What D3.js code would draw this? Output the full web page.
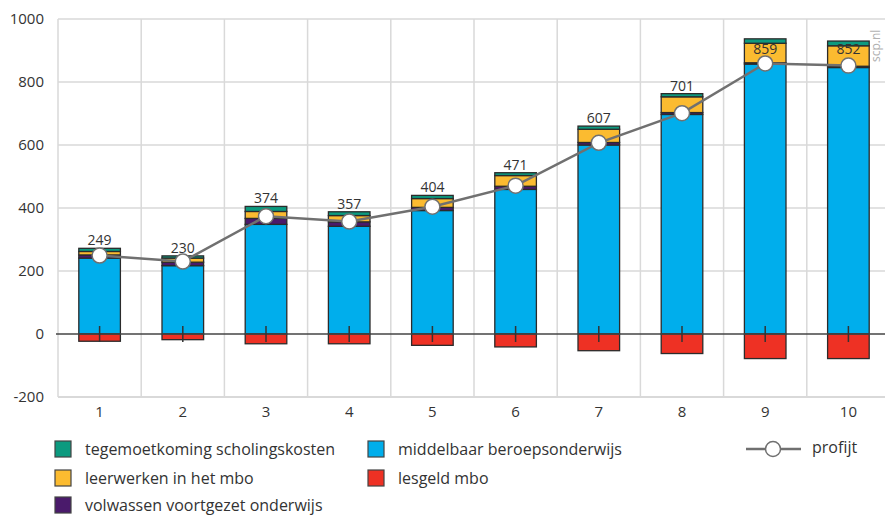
<!DOCTYPE html>
<html><head><meta charset="utf-8">
<script src="https://cdn.jsdelivr.net/npm/d3@7"></script>
<style>
body{margin:0;background:#fff;}
svg{display:block;font-family:"Open Sans",sans-serif;}
</style></head>
<body><svg id="c" width="885" height="517"></svg>
<script>
const categories = ["1","2","3","4","5","6","7","8","9","10"];
const mbo      = [241,217,348,342,392,459,600,697,857,846];
const vavo     = [10,11,19,14,10,10,8,6,4,4];
const leerwerk = [11,13,22,20,28,34,42,50,62,65];
const tegemoet = [10,7,16,12,10,9,10,10,14,15];
const lesgeld  = [-23,-18,-31,-31,-36,-41,-53,-62,-78,-78];
const profijt  = [249,230,374,357,404,471,607,701,859,852];
const yTicks   = [-200,0,200,400,600,800,1000];

const seriesNames = {
  tegemoet:"tegemoetkoming scholingskosten",
  leerwerk:"leerwerken in het mbo",
  vavo:"volwassen voortgezet onderwijs",
  mbo:"middelbaar beroepsonderwijs",
  lesgeld:"lesgeld mbo",
  profijt:"profijt"
};
const colors = {tegemoet:"#0c9a7f", leerwerk:"#fbbb30", vavo:"#4a1a6b", mbo:"#00aeec", lesgeld:"#ee3124"};

const svg = d3.select("#c");
const L=58, R=890, T=19, B=397;
const x = d3.scaleBand().domain(categories).range([L,R]).paddingInner(0.5).paddingOuter(0.25);
const xc = d3.scaleBand().domain(categories).range([L,R]).padding(0);
const y = d3.scaleLinear().domain([-200,1000]).range([B,T]);

// grid
const g = svg.append("g");
g.selectAll("line.h").data(yTicks.filter(d=>d!==0)).join("line")
  .attr("x1",L).attr("x2",R).attr("y1",d=>y(d)).attr("y2",d=>y(d))
  .attr("stroke","#d9d9d9").attr("stroke-width",d=>d===-200?2:1.5);
const vb = categories.map(c=>xc(c)).concat([R]);
g.selectAll("line.v").data(vb).join("line")
  .attr("x1",d=>d).attr("x2",d=>d).attr("y1",T).attr("y2",B)
  .attr("stroke","#d9d9d9").attr("stroke-width",1.5);

// y labels
svg.append("g").selectAll("text").data(yTicks).join("text")
  .attr("x",44).attr("y",d=>y(d)).attr("dy","0.35em").attr("text-anchor","end")
  .attr("font-size",15).attr("fill","#333").text(d=>d);
// x labels
svg.append("g").selectAll("text").data(categories).join("text")
  .attr("x",d=>xc(d)+xc.bandwidth()/2).attr("y",417).attr("text-anchor","middle")
  .attr("font-size",15).attr("fill","#333").text(d=>d);

// stacked bars
const keys = ["mbo","vavo","leerwerk","tegemoet"];
const vals = {mbo, vavo, leerwerk, tegemoet};
const rows = categories.map((c,i)=>{const o={cat:c}; keys.forEach(k=>o[k]=vals[k][i]); return o;});
const stacked = d3.stack().keys(keys)(rows);
const bars = svg.append("g");
stacked.forEach(s=>{
  bars.selectAll(null).data(s).join("rect")
    .attr("x",d=>x(d.data.cat)).attr("width",x.bandwidth())
    .attr("y",d=>y(d[1])).attr("height",d=>y(d[0])-y(d[1]))
    .attr("fill",colors[s.key]).attr("stroke","#2b2b2b").attr("stroke-width",1.3);
});
bars.selectAll(null).data(lesgeld).join("rect")
  .attr("x",(d,i)=>x(categories[i])).attr("width",x.bandwidth())
  .attr("y",y(0)).attr("height",d=>y(d)-y(0))
  .attr("fill",colors.lesgeld).attr("stroke","#2b2b2b").attr("stroke-width",1.3);

// zero line
svg.append("line").attr("x1",L-2).attr("x2",R).attr("y1",y(0)).attr("y2",y(0))
  .attr("stroke","#444").attr("stroke-width",1.5);
// center ticks
svg.append("g").selectAll("line").data(categories).join("line")
  .attr("x1",d=>xc(d)+xc.bandwidth()/2).attr("x2",d=>xc(d)+xc.bandwidth()/2)
  .attr("y1",y(0)-8).attr("y2",y(0)+8).attr("stroke","#333").attr("stroke-width",1.5);

// value labels
const totals = rows.map(r=>keys.reduce((a,k)=>a+r[k],0));
svg.append("g").selectAll("text").data(profijt).join("text")
  .attr("x",(d,i)=>x(categories[i])+x.bandwidth()/2)
  .attr("y",(d,i)=>y(Math.min(totals[i],880))-3)
  .attr("text-anchor","middle").attr("font-size",14).attr("fill","#333").text(d=>d);

// profit line
const cx = (d,i)=>xc(categories[i])+xc.bandwidth()/2;
svg.append("path").datum(profijt)
  .attr("d",d3.line().x(cx).y(d=>y(d)))
  .attr("fill","none").attr("stroke","#707070").attr("stroke-width",2.5);
svg.append("g").selectAll("circle").data(profijt).join("circle")
  .attr("cx",cx).attr("cy",d=>y(d)).attr("r",7.5)
  .attr("fill","#fff").attr("stroke","#707070").attr("stroke-width",1.5);

// watermark
svg.append("text").attr("transform","translate(880,62) rotate(-90)")
  .attr("font-size",12).attr("fill","#b0b0b0").text("scp.nl");

// legend
const legendItems = [
  {k:"tegemoet", x:55, y:449},
  {k:"leerwerk", x:55, y:478},
  {k:"vavo", x:55, y:505},
  {k:"mbo", x:368, y:449},
  {k:"lesgeld", x:368, y:478}
];
const lg = svg.append("g");
legendItems.forEach(it=>{
  lg.append("rect").attr("x",it.x).attr("y",it.y-8).attr("width",16).attr("height",16)
    .attr("fill",colors[it.k]).attr("stroke","#444").attr("stroke-width",1.2);
  lg.append("text").attr("x",it.x+30).attr("y",it.y).attr("dy","0.35em")
    .attr("font-size",16).attr("fill","#333").text(seriesNames[it.k]);
});
lg.append("line").attr("x1",746).attr("x2",801).attr("y1",449).attr("y2",449)
  .attr("stroke","#707070").attr("stroke-width",2.5);
lg.append("circle").attr("cx",773).attr("cy",449).attr("r",7.5)
  .attr("fill","#fff").attr("stroke","#707070").attr("stroke-width",1.5);
lg.append("text").attr("x",812).attr("y",447).attr("dy","0.35em")
  .attr("font-size",16).attr("fill","#333").text(seriesNames.profijt);
</script></body></html>
